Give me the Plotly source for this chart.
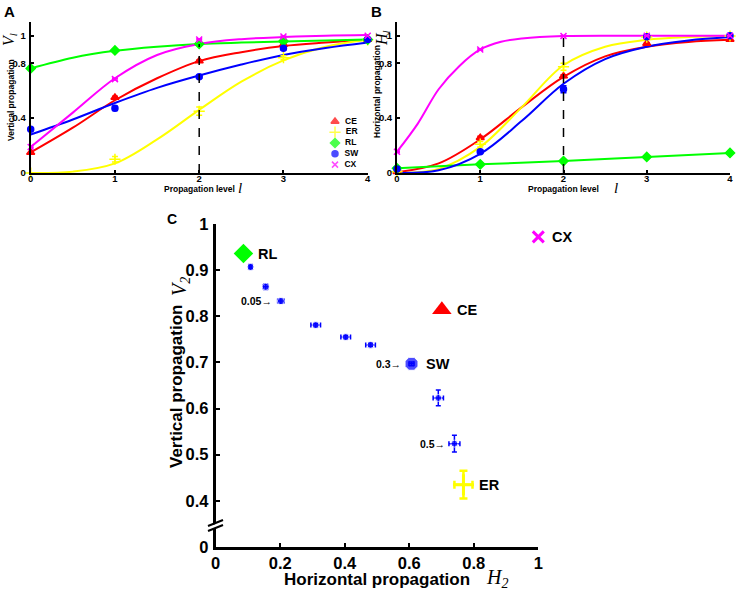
import plotly.graph_objects as go

W, H = 737, 593

# series names / styles (shared by all panels)
names = ['CE', 'ER', 'RL', 'SW', 'CX']
colors = ['#ff0000', '#ffff00', '#00ff00', '#0000ff', '#ff00ff']
symbols = ['triangle-up', 'cross-thin', 'diamond', 'circle', 'x-thin']
msizes = [7, 8, 7, 6, 6]

levels = [0, 1, 2, 3, 4]

# panel A: vertical propagation V_l, measured points
a_vals = {
    'CE': [0.15, 0.55, 0.816, 0.937, 0.973],
    'ER': [0.0, 0.10, 0.45, 0.84, 0.97],
    'RL': [0.762, 0.893, 0.94, 0.96, 0.972],
    'SW': [0.318, 0.471, 0.701, 0.908, 0.973],
    'CX': [0.19, 0.684, 0.973, 0.995, 1.0],
}
a_err = {
    'CE': [0.005, 0.01, 0.008, 0.006, 0.004],
    'ER': [0.0, 0.02, 0.03, 0.015, 0.005],
    'RL': [0.005, 0.008, 0.005, 0.004, 0.003],
    'SW': [0.008, 0.015, 0.01, 0.01, 0.004],
    'CX': [0.006, 0.006, 0.005, 0.003, 0.002],
}
# panel A fitted curves
fit_x = [0, 0.5, 1, 1.5, 2, 2.5, 3, 3.5, 4]
a_fit = {
    'CE': [0.15, 0.33, 0.53, 0.69, 0.815, 0.88, 0.925, 0.95, 0.97],
    'ER': [0.0, 0.01, 0.07, 0.245, 0.46, 0.665, 0.82, 0.92, 0.97],
    'RL': [0.762, 0.84, 0.89, 0.92, 0.94, 0.95, 0.958, 0.965, 0.972],
    'SW': [0.28, 0.39, 0.51, 0.62, 0.71, 0.79, 0.86, 0.91, 0.95],
    'CX': [0.19, 0.44, 0.69, 0.86, 0.94, 0.975, 0.99, 1.0, 1.005],
}

# panel B: horizontal propagation H_l
b_vals = {
    'CE': [0.01, 0.257, 0.706, 0.944, 0.973],
    'ER': [0.01, 0.21, 0.774, 0.99, 0.998],
    'RL': [0.034, 0.063, 0.087, 0.117, 0.146],
    'SW': [0.03, 0.155, 0.61, 0.993, 1.0],
    'CX': [0.155, 0.90, 0.998, 1.0, 1.0],
}
b_err = {
    'CE': [0.004, 0.01, 0.01, 0.006, 0.004],
    'ER': [0.003, 0.02, 0.025, 0.006, 0.003],
    'RL': [0.004, 0.005, 0.005, 0.005, 0.006],
    'SW': [0.004, 0.01, 0.025, 0.008, 0.003],
    'CX': [0.006, 0.006, 0.003, 0.002, 0.002],
}
b_fit_x = {
    'CE': fit_x,
    'ER': fit_x,
    'RL': levels,
    'SW': fit_x,
    'CX': [0, 0.25, 0.5, 0.75, 1, 1.25, 1.5, 2, 3, 4],
}
b_fit = {
    'CE': [0.005, 0.07, 0.245, 0.48, 0.70, 0.85, 0.92, 0.955, 0.97],
    'ER': [0.0, 0.03, 0.19, 0.48, 0.785, 0.92, 0.97, 0.99, 0.998],
    'RL': [0.034, 0.063, 0.087, 0.117, 0.146],
    'SW': [0.0, 0.02, 0.14, 0.38, 0.65, 0.83, 0.92, 0.965, 0.99],
    'CX': [0.155, 0.36, 0.61, 0.78, 0.90, 0.956, 0.98, 0.998, 1.0, 1.0],
}
dash_level = 2
a_dash_top = 0.94
b_dash_top = 1.0

# panel C: V_2 vs H_2
sw_h = [0.108, 0.155, 0.202, 0.310, 0.403, 0.480, 0.607, 0.690, 0.740]
sw_v = [0.907, 0.864, 0.833, 0.781, 0.755, 0.738, 0.697, 0.623, 0.524]
sw_h_err = [0.004, 0.008, 0.01, 0.015, 0.015, 0.015, 0.008, 0.016, 0.017]
sw_v_err = [0.005, 0.006, 0.005, 0.004, 0.004, 0.004, 0.004, 0.017, 0.018]
sw_labels = {2: '0.05', 6: '0.3', 8: '0.5'}
sw_main = 6
c_pts = {
    'RL': (0.086, 0.936),
    'CE': (0.701, 0.814),
    'ER': (0.768, 0.435),
    'CX': (1.0, 0.972),
}
er_h_err, er_v_err = 0.028, 0.03
c_yticks = [0.3, 0.4, 0.5, 0.6, 0.7, 0.8, 0.9, 1.0]
c_yticktext = ['0', '0.4', '0.5', '0.6', '0.7', '0.8', '0.9', '1']
c_xticks = [0, 0.2, 0.4, 0.6, 0.8, 1]
c_xticktext = ['0', '0.2', '0.4', '0.6', '0.8', '1']


def px(x):
    return x / W


def py(y):
    return 1 - y / H


SANS = 'Liberation Sans'
SERIF = 'Liberation Serif'

fig = go.Figure()

for panel, vals, errs, fx, fits in [
    ('1', a_vals, a_err, {n: fit_x for n in names}, a_fit),
    ('2', b_vals, b_err, b_fit_x, b_fit),
]:
    xa = 'x' if panel == '1' else 'x2'
    ya = 'y' if panel == '1' else 'y2'
    for n, c in zip(names, colors):
        fig.add_trace(go.Scatter(
            x=fx[n], y=fits[n], mode='lines', xaxis=xa, yaxis=ya,
            line=dict(color=c, width=2, shape='spline'), hoverinfo='skip'))
    for n, c, s, ms in zip(names, colors, symbols, msizes):
        fig.add_trace(go.Scatter(
            x=levels, y=vals[n], mode='markers', xaxis=xa, yaxis=ya, cliponaxis=False,
            marker=dict(color=c, symbol=s, size=ms, line=dict(color=c, width=1.5)),
            error_y=dict(type='data', array=errs[n], color=c, thickness=1.5, width=3)))

# legend of panel A, drawn on its own small axis
fig.add_trace(go.Scatter(
    x=[0] * len(names), y=list(range(len(names))), xaxis='x4', yaxis='y4',
    mode='markers+text', text=names, texttemplate='  %{text}', textposition='middle right',
    textfont=dict(family=SANS, size=8.5, color='black', weight='bold'),
    marker=dict(color=colors, symbol=symbols, size=msizes,
                line=dict(color=colors, width=1.5)),
    cliponaxis=False))

# panel C
fig.add_trace(go.Scatter(
    x=sw_h, y=sw_v, mode='markers', xaxis='x3', yaxis='y3', cliponaxis=False,
    marker=dict(color='#0000ff', size=[14 if i == sw_main else 7 for i in range(len(sw_h))],
                symbol=['octagon' if i == sw_main else 'circle' for i in range(len(sw_h))]),
    error_x=dict(type='data', array=sw_h_err, color='#0000ff', thickness=1.5, width=2.5),
    error_y=dict(type='data', array=sw_v_err, color='#0000ff', thickness=1.5, width=2.5)))

c_style = {
    'RL': dict(color='#00ff00', symbol='diamond', size=15),
    'CE': dict(color='#ff0000', symbol='triangle-up', size=17),
    'ER': dict(color='#ffff00', symbol='cross-thin', size=15,
               line=dict(color='#ffff00', width=3)),
    'CX': dict(color='#ff00ff', symbol='x-thin', size=11,
               line=dict(color='#ff00ff', width=3)),
}
for n, (hx, vy) in c_pts.items():
    kw = {}
    if n == 'ER':
        kw = dict(error_x=dict(type='data', array=[er_h_err], color='#ffff00', thickness=2.5, width=4),
                  error_y=dict(type='data', array=[er_v_err], color='#ffff00', thickness=2.5, width=4))
    fig.add_trace(go.Scatter(x=[hx], y=[vy], mode='markers', xaxis='x3', yaxis='y3',
                             cliponaxis=False, marker=c_style[n], **kw))

ann = []
label_shift = {'RL': 13, 'CE': 13, 'SW': 12, 'ER': 14, 'CX': 12}
for n, (hx, vy) in c_pts.items():
    ann.append(dict(x=hx, y=vy, xref='x3', yref='y3', text=n, showarrow=False,
                    xanchor='left', xshift=label_shift[n],
                    font=dict(family=SANS, size=14.5, color='black', weight='bold')))
ann.append(dict(x=sw_h[sw_main], y=sw_v[sw_main], xref='x3', yref='y3', text='SW',
                showarrow=False, xanchor='left', xshift=label_shift['SW'],
                font=dict(family=SANS, size=14.5, color='black', weight='bold')))
for i, t in sw_labels.items():
    ann.append(dict(x=sw_h[i], y=sw_v[i], xref='x3', yref='y3',
                    text='<b>' + t + '</b>→', showarrow=False, xanchor='right',
                    xshift=-9 if i == sw_main else -7,
                    font=dict(family=SANS, size=10.5, color='black')))

bold = lambda s: dict(family=SANS, size=s, color='black', weight='bold')
ital = lambda s: dict(family=SERIF, size=s, color='black', style='italic')


def text_at(x, y, t, font, angle=0):
    ann.append(dict(x=px(x), y=py(y), xref='paper', yref='paper', text=t, showarrow=False,
                    textangle=angle, font=font, xanchor='center', yanchor='middle'))


text_at(9, 11, 'A', bold(15))
text_at(376, 11, 'B', bold(15))
text_at(172, 219, 'C', bold(14))
text_at(11, 100, 'Vertical propagation', bold(8.5), -90)
text_at(9, 40, 'V<sub>l</sub>', ital(16), -90)
text_at(199, 189, 'Propagation level', bold(8.5))
text_at(240, 188, 'l', ital(15))
text_at(377, 92, 'Horizontal propagation', bold(8.5), -90)
text_at(383, 38, 'H<sub>l</sub>', ital(16), -90)
text_at(563, 189, 'Propagation level', bold(8.5))
text_at(616, 188, 'l', ital(15))
text_at(176, 387, 'Vertical propagation', bold(17), -90)
text_at(181, 287, 'V<sub>2</sub>', ital(20), -90)
text_at(377, 579, 'Horizontal propagation', bold(17))
text_at(497, 578, 'H<sub>2</sub>', ital(20))

shapes = [
    dict(type='line', xref='x', yref='y', x0=dash_level, x1=dash_level, y0=0, y1=a_dash_top,
         line=dict(color='black', width=1.5, dash='dash')),
    dict(type='line', xref='x2', yref='y2', x0=dash_level, x1=dash_level, y0=0, y1=b_dash_top,
         line=dict(color='black', width=1.5, dash='dash')),
    # axis break on panel C
    dict(type='path', xref='paper', yref='paper', layer='above',
         path='M %f %f L %f %f L %f %f L %f %f Z' % (px(208), py(527), px(223), py(521),
                                                     px(223), py(525), px(208), py(531)),
         fillcolor='white', line=dict(width=0)),
    dict(type='line', xref='paper', yref='paper', x0=px(208), y0=py(526), x1=px(223), y1=py(520),
         line=dict(color='black', width=2)),
    dict(type='line', xref='paper', yref='paper', x0=px(208), y0=py(531), x1=px(223), y1=py(525),
         line=dict(color='black', width=2)),
]

ab_axis = dict(showline=True, linecolor='black', linewidth=2, ticks='inside', ticklen=3,
               tickwidth=1.5, tickcolor='black', showgrid=False, zeroline=False,
               tickfont=bold(9.5), automargin=False)
c_axis = dict(showline=True, linecolor='black', linewidth=3, ticks='inside', ticklen=4,
              tickwidth=2, tickcolor='black', showgrid=False, zeroline=False,
              tickfont=bold(16.5), automargin=False)

fig.update_layout(
    width=W, height=H, margin=dict(l=0, r=0, t=0, b=0),
    paper_bgcolor='white', plot_bgcolor='white', showlegend=False,
    xaxis=dict(ab_axis, domain=[px(30.7), px(367.7)], range=[0, 4], anchor='y',
               tickvals=levels, ticklabelstandoff=-4),
    yaxis=dict(ab_axis, domain=[py(173), py(22)], range=[0, 1.1], anchor='x',
               tickvals=[0, 0.4, 0.8, 1], ticklabelstandoff=1),
    xaxis2=dict(ab_axis, domain=[px(397), px(730)], range=[0, 4], anchor='y2',
                tickvals=levels, ticklabelstandoff=-4),
    yaxis2=dict(ab_axis, domain=[py(173), py(22)], range=[0, 1.1], anchor='x2',
                tickvals=[0, 0.4, 0.8, 1], ticklabelstandoff=1),
    xaxis3=dict(c_axis, domain=[px(215.7), px(538.3)], range=[0, 1], anchor='y3',
                tickvals=c_xticks, ticktext=c_xticktext, ticklabelstandoff=-1),
    yaxis3=dict(c_axis, domain=[py(547), py(224)], range=[0.3, 1.0], anchor='x3',
                tickvals=c_yticks, ticktext=c_yticktext, ticklabelstandoff=1),
    xaxis4=dict(domain=[px(320), px(370)], range=[-0.3, 0.7], anchor='y4', visible=False,
                automargin=False),
    yaxis4=dict(domain=[py(170), py(116)], range=[4.5, -0.5], anchor='x4', visible=False,
                automargin=False),
    annotations=ann, shapes=shapes,
)

# drop the page's default body margin so the figure sits at the window corner
fig.write_html('out.html', config={'displayModeBar': False},
               post_script="document.body.style.margin='0px';")
